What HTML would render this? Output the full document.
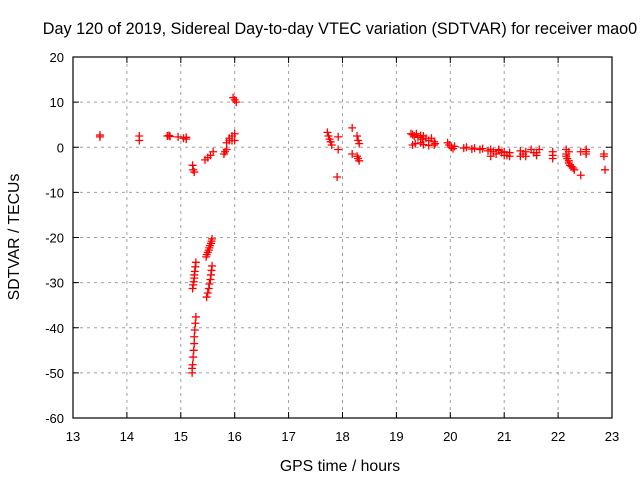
<!DOCTYPE html>
<html><head><meta charset="utf-8"><style>
body{margin:0;background:#fff}
svg{display:block;font-family:"Liberation Sans",sans-serif}
</style></head><body>
<svg id="chart" width="640" height="480" viewBox="0 0 640 480">
<rect width="640" height="480" fill="#fff"/>
<text x="340" y="34" font-size="16.2" text-anchor="middle">Day 120 of 2019, Sidereal Day-to-day VTEC variation (SDTVAR) for receiver mao0</text>
<text transform="translate(19,237) rotate(-90)" font-size="15.8" text-anchor="middle">SDTVAR / TECUs</text>
<text x="340" y="471" font-size="15.8" text-anchor="middle">GPS time / hours</text>
<g id="grid"></g><g id="axes"></g><g id="marks"></g>
</svg>
<script>
const xTicks=[13,14,15,16,17,18,19,20,21,22,23];
const yTicks=[20,10,0,-10,-20,-30,-40,-50,-60];
const hours=[13.5,13.5,14.23,14.23,14.75,14.78,14.8,14.95,15.05,15.1,15.1,
15.22,15.23,15.25,15.45,15.5,15.55,15.6,15.8,15.82,15.85,15.85,15.9,15.9,15.95,15.95,16,16,15.97,16,16.03,
15.28,15.27,15.26,15.25,15.25,15.24,15.23,15.22,
15.28,15.27,15.26,15.25,15.25,15.24,15.23,15.22,15.21,15.21,
15.58,15.57,15.56,15.54,15.53,15.52,15.5,15.48,15.47,
15.58,15.57,15.56,15.55,15.53,15.52,15.5,15.48,
17.72,17.74,17.76,17.78,17.8,17.92,17.92,17.9,18.18,18.18,18.27,18.29,18.31,18.27,18.29,18.31,
19.27,19.3,19.33,19.37,19.4,19.45,19.48,19.5,19.55,19.6,19.65,19.7,19.72,19.3,19.35,19.45,19.5,19.6,19.7,
19.95,19.98,20.02,20.05,20.08,
20.25,20.3,20.4,20.45,20.55,20.6,20.7,20.75,20.8,20.85,20.9,20.95,21.0,21.05,21.1,20.75,20.9,21.0,21.1,
21.3,21.35,21.4,21.5,21.55,21.6,21.65,21.3,21.4,21.6,
21.9,21.9,21.9,
22.15,22.15,22.17,22.2,22.2,22.22,22.25,22.28,22.3,22.15,22.2,
22.42,22.42,22.52,22.52,22.52,22.85,22.85,22.87];
const values=[2.3,2.7,1.5,2.5,2.5,2.6,2.4,2.3,2.0,2.2,1.8,
-4,-5,-5.5,-2.8,-2.3,-1.8,-1.0,-1.5,-1.0,-0.5,1.0,1.5,2.0,2.5,1.5,3.0,1.5,11,10.5,10,
-25.5,-26.5,-27.5,-28.3,-29,-29.8,-30.5,-31.3,
-37.6,-39,-40.5,-42,-43.5,-45,-46.5,-48.2,-50,-49,
-20.3,-20.8,-21.3,-21.8,-22.3,-22.8,-23.3,-23.8,-24.3,
-26.3,-27.3,-28.3,-29.3,-30.3,-31.3,-32.3,-33.2,
3.3,2.5,1.8,1.2,0.5,2.3,-0.5,-6.6,4.3,-1.5,2.5,1.5,0.8,-2,-2.5,-3,
3,2.8,2.5,3,2.2,2.6,1.8,2.5,2,1.5,2,1.2,0.8,0.5,0.8,1,0.6,0.4,0.5,
1,0.5,0,-0.3,0.2,
-0.2,0,-0.4,-0.2,-0.5,-0.3,-0.8,-0.5,-1,-1.5,-0.7,-1.2,-1,-1.8,-2,-2,-0.5,-1.8,-1.2,
-0.8,-1.5,-2,-0.5,-1.2,-1.8,-0.5,-2,-1,-1.2,
-1,-1.8,-2.5,
-0.5,-1.5,-2.5,-3,-3.5,-4,-4.3,-4.6,-5,-2,-1,
-1,-6.2,-0.5,-1,-1.5,-1.5,-2,-5];
const X0=73,X1=612,Y0=57,Y1=418;
const sx=h=>X0+(h-13)*(X1-X0)/10;
const sy=v=>Y0+(20-v)*(Y1-Y0)/80;
const NS="http://www.w3.org/2000/svg";
const grid=document.getElementById('grid'),axes=document.getElementById('axes'),marks=document.getElementById('marks');
function mk(tag,at,parent){const e=document.createElementNS(NS,tag);for(const k in at)e.setAttribute(k,at[k]);parent.appendChild(e);return e;}
xTicks.forEach(t=>{
 const x=sx(t);
 if(t>13&&t<23){const g=mk('line',{x1:x,x2:x,y1:Y0,y2:Y1,stroke:'#a0a0a0','stroke-dasharray':'3,4'},grid);
 
 }
 const l=mk('text',{x:x,y:Y1+23,'font-size':13,'text-anchor':'middle'},axes);l.textContent=t;
 
 
 mk('line',{x1:x,x2:x,y1:Y1,y2:Y1-6,stroke:'#000'},axes);
 mk('line',{x1:x,x2:x,y1:Y0,y2:Y0+6,stroke:'#000'},axes);
});
yTicks.forEach(t=>{
 const y=sy(t);
 if(t<20&&t>-60){const g=mk('line',{x1:X0,x2:X1,y1:y,y2:y,stroke:'#a0a0a0','stroke-dasharray':'3,4'},grid);
 
 }
 const l=mk('text',{x:X0-9,y:y+5,'font-size':13,'text-anchor':'end'},axes);l.textContent=t;
 
 
 mk('line',{x1:X0,x2:X0+6,y1:y,y2:y,stroke:'#000'},axes);
 mk('line',{x1:X1,x2:X1-6,y1:y,y2:y,stroke:'#000'},axes);
});
const fr=mk('rect',{x:X0,y:Y0,width:X1-X0,height:Y1-Y0,fill:'none',stroke:'#000','stroke-width':1.2},axes);


hours.forEach((h,i)=>{
 const x=sx(h),y=sy(values[i]);
 const p=mk('path',{d:`M${x-4},${y}H${x+4}M${x},${y-4}V${y+4}`,stroke:'#ff0000','stroke-width':1.3,fill:'none'},marks);
 
 
});
</script>
</body></html>
